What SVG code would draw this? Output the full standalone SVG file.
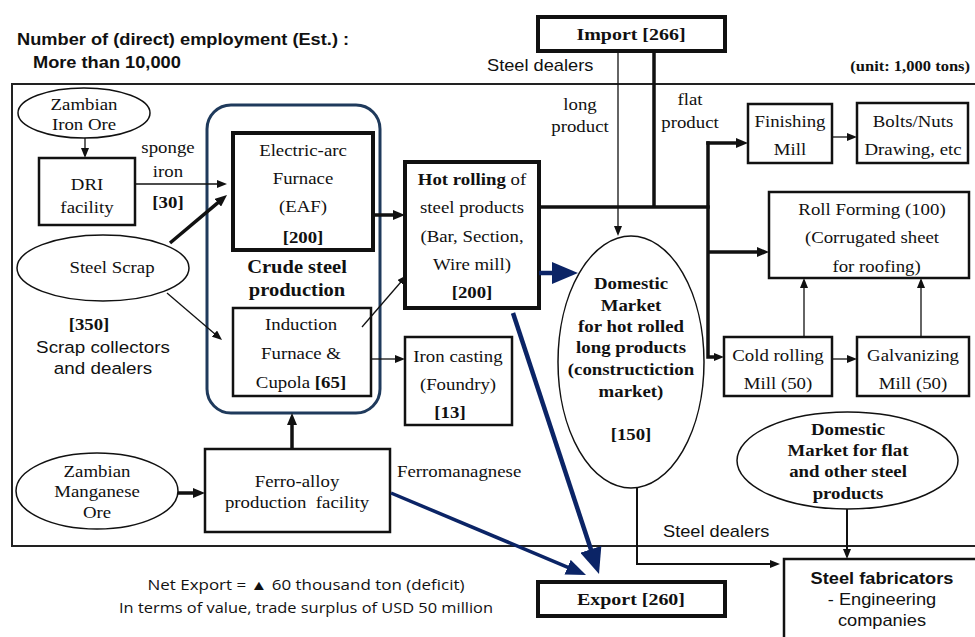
<svg xmlns="http://www.w3.org/2000/svg" width="975" height="637" viewBox="0 0 975 637">
  <style>
    text { font-family: "Liberation Serif", "Times New Roman", "DejaVu Serif", serif; font-weight: 400; font-size: 16.5px; text-anchor: middle; fill: #111; }
    .b { font-weight: 700; }
    .sans { font-family: "Liberation Sans", Arial, sans-serif; }
    .l { text-anchor: start; }
    .r { text-anchor: end; }
    .bx { fill: #fff; stroke: #111; stroke-width: 2.5; }
    .bxk { fill: #fff; stroke: #111; stroke-width: 4; }
    .el { fill: #fff; stroke: #111; stroke-width: 1.5; }
    .thin { fill: none; stroke: #111; stroke-width: 1.3; }
    .mid { fill: none; stroke: #111; stroke-width: 2; }
    .thick { fill: none; stroke: #111; stroke-width: 3.5; }
    .blue { fill: none; stroke: #0b2466; }
  </style>
  <defs>
    <marker id="ah" viewBox="0 0 10 8" refX="1" refY="4" markerWidth="10" markerHeight="8" markerUnits="userSpaceOnUse" orient="auto">
      <path d="M0,0 L10,4 L0,8 z" fill="#111"/>
    </marker>
    <marker id="ahk" viewBox="0 0 12 10" refX="1" refY="5" markerWidth="12" markerHeight="10" markerUnits="userSpaceOnUse" orient="auto">
      <path d="M0,0 L12,5 L0,10 z" fill="#111"/>
    </marker>
    <marker id="ahb" viewBox="0 0 26 22" refX="1" refY="11" markerWidth="26" markerHeight="22" markerUnits="userSpaceOnUse" orient="auto">
      <path d="M0,0 L26,11 L0,22 z" fill="#0b2466"/>
    </marker>
    <marker id="ahb2" viewBox="0 0 20 16" refX="1" refY="8" markerWidth="20" markerHeight="16" markerUnits="userSpaceOnUse" orient="auto">
      <path d="M0,0 L20,8 L0,16 z" fill="#0b2466"/>
    </marker>
  </defs>

  <rect width="975" height="637" fill="#fff"/>

  <!-- headings -->
  <g id="headings">
    <g transform="translate(17 0) scale(1.14 1)">
      <text class="sans b l" x="0" y="45" style="font-size:16px">Number of (direct) employment (Est.) :</text>
      <text class="sans b l" x="14" y="68" style="font-size:16px">More than 10,000</text>
    </g>
    <g transform="translate(487 0) scale(1.14 1)">
      <text class="sans l" x="0" y="71" style="font-size:16px">Steel dealers</text>
    </g>
    <g transform="translate(970 0) scale(1.14 1)">
      <text class="b r" x="0" y="71" style="font-size:14.5px">(unit: 1,000 tons)</text>
    </g>
  </g>

  <!-- outer boundary of the domestic industry -->
  <rect id="frame" x="12" y="84" width="990" height="462" fill="none" stroke="#222" stroke-width="2"/>

  <!-- nodes -->
  <g id="import">
    <rect class="bxk" x="538" y="17" width="187" height="34"/>
    <g transform="translate(631 0) scale(1.14 1)"><text class="b" x="0" y="40" style="font-size:17.5px">Import [266]</text></g>
  </g>

  <g id="iron-ore">
    <ellipse class="el" cx="84" cy="113" rx="66" ry="25"/>
    <g transform="translate(84 0) scale(1.14 1)">
      <text x="0" y="110">Zambian</text>
      <text x="0" y="130">Iron Ore</text>
    </g>
  </g>

  <g id="dri">
    <rect class="bx" x="39" y="158" width="96" height="67"/>
    <g transform="translate(87 0) scale(1.14 1)">
      <text x="0" y="190">DRI</text>
      <text x="0" y="213">facility</text>
    </g>
  </g>

  <g id="sponge-label" transform="translate(168 0) scale(1.14 1)">
    <text x="0" y="153">sponge</text>
    <text x="0" y="177">iron</text>
    <text class="b" x="0" y="208">[30]</text>
  </g>

  <g id="crude-steel">
    <rect x="207" y="105" width="173" height="308" rx="24" fill="none" stroke="#1f3a5c" stroke-width="3"/>
    <g transform="translate(297 0) scale(1.14 1)">
      <text class="b" x="0" y="273" style="font-size:18px">Crude steel</text>
      <text class="b" x="0" y="296" style="font-size:18px">production</text>
    </g>
  </g>

  <g id="eaf">
    <rect class="bxk" x="233" y="133" width="140" height="117"/>
    <g transform="translate(303 0) scale(1.14 1)">
      <text x="0" y="156">Electric-arc</text>
      <text x="0" y="184">Furnace</text>
      <text x="0" y="212">(EAF)</text>
      <text class="b" x="0" y="243">[200]</text>
    </g>
  </g>

  <g id="induction">
    <rect class="bx" x="233" y="308" width="138" height="88"/>
    <g transform="translate(301 0) scale(1.14 1)">
      <text x="0" y="330">Induction</text>
      <text x="0" y="359">Furnace &amp;</text>
      <text x="0" y="388">Cupola <tspan class="b">[65]</tspan></text>
    </g>
  </g>

  <g id="steel-scrap">
    <ellipse class="el" cx="103" cy="268" rx="86" ry="33"/>
    <g transform="translate(112 0) scale(1.14 1)"><text x="0" y="273">Steel Scrap</text></g>
    <g transform="translate(89 0) scale(1.14 1)"><text class="b" x="0" y="330">[350]</text></g>
    <g transform="translate(103 0) scale(1.14 1)">
      <text class="sans" x="0" y="353">Scrap collectors</text>
      <text class="sans" x="0" y="374">and dealers</text>
    </g>
  </g>

  <g id="hot-rolling">
    <rect class="bxk" x="405" y="162" width="134" height="146"/>
    <g transform="translate(472 0) scale(1.14 1)">
      <text x="0" y="185"><tspan class="b">Hot rolling</tspan> of</text>
      <text x="0" y="213">steel products</text>
      <text x="0" y="242">(Bar, Section,</text>
      <text x="0" y="270">Wire mill)</text>
      <text class="b" x="0" y="298">[200]</text>
    </g>
  </g>

  <g id="iron-casting">
    <rect class="bx" x="405" y="337" width="107" height="88"/>
    <g transform="translate(458 0) scale(1.14 1)">
      <text x="0" y="362">Iron casting</text>
      <text x="0" y="390">(Foundry)</text>
      <text class="b" x="-7" y="418">[13]</text>
    </g>
  </g>

  <g id="manganese-ore">
    <ellipse class="el" cx="97" cy="491" rx="81" ry="38"/>
    <g transform="translate(97 0) scale(1.14 1)">
      <text x="0" y="477">Zambian</text>
      <text x="0" y="497">Manganese</text>
      <text x="0" y="518">Ore</text>
    </g>
  </g>

  <g id="ferro-alloy">
    <rect class="bx" x="205" y="449" width="185" height="83"/>
    <g transform="translate(297 0) scale(1.14 1)">
      <text x="0" y="487">Ferro-alloy</text>
      <text x="0" y="508" xml:space="preserve">production  facility</text>
    </g>
  </g>

  <g id="ferro-label" transform="translate(397 0) scale(1.14 1)">
    <text class="l" x="0" y="477">Ferromanagnese</text>
  </g>

  <g id="long-flat-labels">
    <g transform="translate(580 0) scale(1.14 1)">
      <text x="0" y="110">long</text>
      <text x="0" y="132">product</text>
    </g>
    <g transform="translate(690 0) scale(1.14 1)">
      <text x="0" y="105">flat</text>
      <text x="0" y="128">product</text>
    </g>
  </g>

  <g id="domestic-long">
    <ellipse class="el" cx="631" cy="362" rx="73" ry="126"/>
    <g transform="translate(631 0) scale(1.14 1)">
      <text class="b" x="0" y="289">Domestic</text>
      <text class="b" x="0" y="311">Market</text>
      <text class="b" x="0" y="332">for hot rolled</text>
      <text class="b" x="0" y="353">long products</text>
      <text class="b" x="0" y="375">(constructiction</text>
      <text class="b" x="0" y="397">market)</text>
      <text class="b" x="0" y="440">[150]</text>
    </g>
  </g>

  <g id="finishing-mill">
    <rect class="bx" x="748" y="104" width="84" height="59"/>
    <g transform="translate(790 0) scale(1.14 1)">
      <text x="0" y="127">Finishing</text>
      <text x="0" y="155">Mill</text>
    </g>
  </g>

  <g id="bolts-nuts">
    <rect class="bx" x="857" y="103" width="111" height="60"/>
    <g transform="translate(913 0) scale(1.14 1)">
      <text x="0" y="127">Bolts/Nuts</text>
      <text x="0" y="155">Drawing, etc</text>
    </g>
  </g>

  <g id="roll-forming">
    <rect class="bx" x="769" y="192" width="200" height="86"/>
    <g transform="translate(872 0) scale(1.14 1)">
      <text x="0" y="215">Roll Forming (100)</text>
      <text x="0" y="243">(Corrugated sheet</text>
      <text x="4" y="272">for roofing)</text>
    </g>
  </g>

  <g id="cold-rolling">
    <rect class="bx" x="724" y="337" width="108" height="59"/>
    <g transform="translate(778 0) scale(1.14 1)">
      <text x="0" y="361">Cold rolling</text>
      <text x="0" y="389">Mill (50)</text>
    </g>
  </g>

  <g id="galvanizing">
    <rect class="bx" x="857" y="337" width="112" height="59"/>
    <g transform="translate(913 0) scale(1.14 1)">
      <text x="0" y="361">Galvanizing</text>
      <text x="0" y="389">Mill (50)</text>
    </g>
  </g>

  <g id="domestic-flat">
    <ellipse class="el" cx="847.5" cy="460.5" rx="110.5" ry="48.5"/>
    <g transform="translate(848 0) scale(1.14 1)">
      <text class="b" x="0" y="435">Domestic</text>
      <text class="b" x="0" y="456">Market for flat</text>
      <text class="b" x="0" y="477">and other steel</text>
      <text class="b" x="0" y="499">products</text>
    </g>
  </g>

  <g id="dealers-label" transform="translate(663 0) scale(1.14 1)">
    <text class="sans l" x="0" y="537" style="font-size:16px">Steel dealers</text>
  </g>

  <g id="export">
    <rect class="bxk" x="538" y="582" width="187" height="34"/>
    <g transform="translate(631 0) scale(1.14 1)"><text class="b" x="0" y="605" style="font-size:17.5px">Export [260]</text></g>
  </g>

  <g id="steel-fabricators">
    <rect class="bx" x="784" y="559" width="220" height="100"/>
    <g transform="translate(882 0) scale(1.14 1)">
      <text class="sans b" x="0" y="584" style="font-size:16px">Steel fabricators</text>
      <text class="sans" x="0" y="605" style="font-size:16px">- Engineering</text>
      <text class="sans" x="0" y="626" style="font-size:16px">companies</text>
    </g>
  </g>

  <g id="net-export">
    <text x="306" y="590" textLength="317" lengthAdjust="spacingAndGlyphs" style="font-family:'Open Sans','Noto Sans',sans-serif;font-size:14px">Net Export  = ▲ 60 thousand ton (deficit)</text>
    <text x="306" y="613" textLength="374" lengthAdjust="spacingAndGlyphs" style="font-family:'Open Sans','Noto Sans',sans-serif;font-size:14px">In terms of value, trade surplus of USD 50 million</text>
  </g>

  <!-- connectors -->
  <g id="connectors">
    <line class="thin" x1="85" y1="138" x2="85" y2="149" marker-end="url(#ah)"/>
    <line class="thin" x1="135" y1="184" x2="218" y2="184" marker-end="url(#ah)"/>
    <line class="thick" x1="170" y1="243" x2="218.6" y2="202.1" marker-end="url(#ahk)"/>
    <line class="thin" x1="167" y1="293" x2="215.2" y2="334.2" marker-end="url(#ah)"/>
    <line class="thick" x1="373" y1="215" x2="394" y2="215" marker-end="url(#ahk)"/>
    <line class="thin" x1="362" y1="327" x2="401.1" y2="281.8" marker-end="url(#ah)"/>
    <line class="thin" x1="371" y1="359" x2="396" y2="359" marker-end="url(#ah)"/>
    <line class="thick" x1="178" y1="493" x2="194" y2="493" marker-end="url(#ahk)"/>
    <line class="thick" x1="292" y1="449" x2="292" y2="424" marker-end="url(#ahk)"/>

    <line class="thin" x1="618" y1="51" x2="618" y2="227" marker-end="url(#ah)"/>
    <line class="thick" x1="654" y1="51" x2="654" y2="207"/>
    <line class="thick" x1="539" y1="207" x2="709.75" y2="207"/>
    <path class="thick" d="M708,141.25 V357 H715" marker-end="url(#ah)"/>
    <line class="thick" x1="706.25" y1="143" x2="737" y2="143" marker-end="url(#ahk)"/>
    <line class="thick" x1="708" y1="252" x2="758" y2="252" marker-end="url(#ahk)"/>

    <line class="thin" x1="832" y1="137" x2="848" y2="137" marker-end="url(#ah)"/>
    <line class="thin" x1="832" y1="359" x2="848" y2="359" marker-end="url(#ah)"/>
    <line class="thin" x1="804" y1="337" x2="804" y2="287" marker-end="url(#ah)"/>
    <line class="thin" x1="921" y1="337" x2="921" y2="287" marker-end="url(#ah)"/>

    <line class="blue" stroke-width="4.5" x1="539" y1="273" x2="553" y2="273" marker-end="url(#ahb)"/>
    <line class="blue" stroke-width="4.5" x1="513" y1="313" x2="591.2" y2="550.3" marker-end="url(#ahb)"/>
    <line class="blue" stroke-width="3.5" x1="391" y1="493" x2="568.5" y2="567.6" marker-end="url(#ahb2)"/>

    <path class="mid" d="M637,488 V564 H771" marker-end="url(#ah)"/>
    <line class="mid" x1="847" y1="509" x2="847" y2="550" marker-end="url(#ah)"/>
  </g>
</svg>
